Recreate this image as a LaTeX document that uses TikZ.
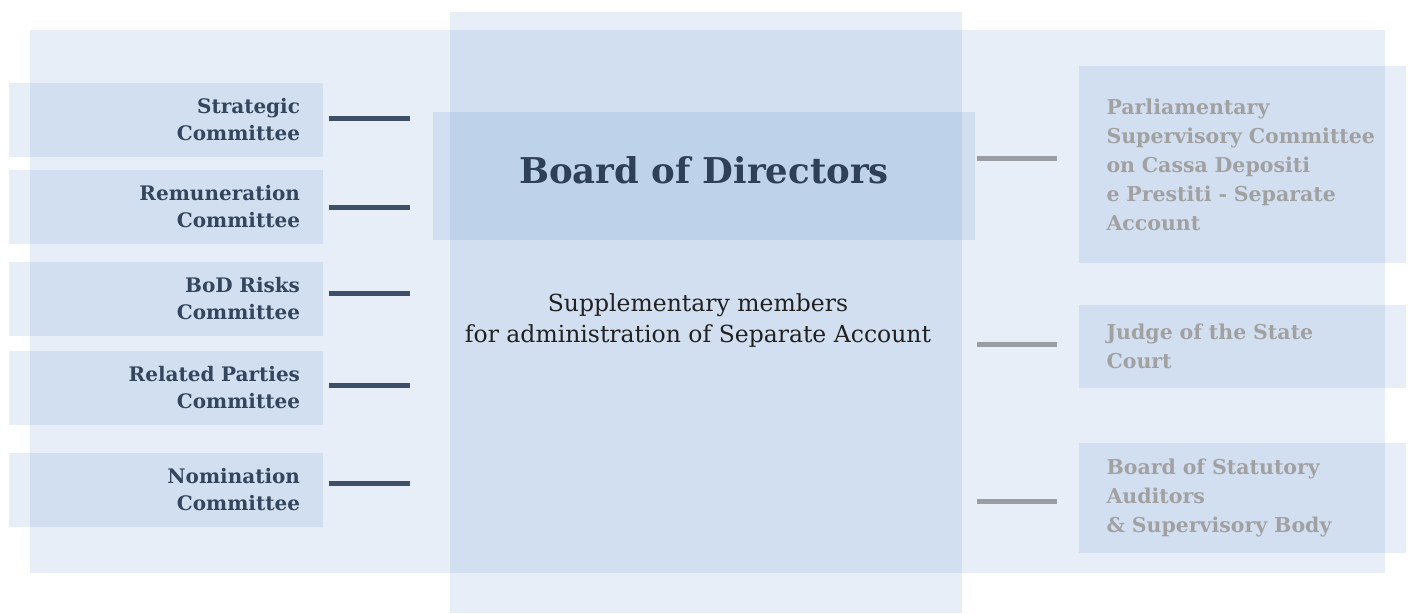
\documentclass[tikz,border=0pt]{standalone}
\usepackage{fontspec}
\setmainfont{DejaVu Serif}
\definecolor{tint}{RGB}{20,90,180}
\definecolor{slate}{RGB}{52,70,94}
\definecolor{inkrule}{RGB}{62,80,103}
\definecolor{mute}{RGB}{162,161,161}
\definecolor{muterule}{RGB}{154,157,164}
\definecolor{boardink}{RGB}{47,63,88}
\tikzset{
  panel/.style={rectangle, fill=tint, fill opacity=0.1, text opacity=1, inner sep=0pt},
  cmte/.style={panel, minimum width=314pt, minimum height=74pt, text width=268pt,
    align=right, text=slate, font=\bfseries\fontsize{20}{27}\selectfont},
  ctrl/.style={panel, minimum width=327pt, text width=272pt,
    align=left, text=mute, font=\bfseries\fontsize{20.5}{29}\selectfont},
  darkrule/.style={draw=inkrule, line width=5pt, shorten <=6pt, shorten >=23pt},
  palerule/.style={draw=muterule, line width=5pt, shorten <=2pt, shorten >=22pt}
}
\begin{document}
\begin{tikzpicture}[x=1pt, y=-1pt]
  \useasboundingbox (0,0) rectangle (1412,613);
  \node[panel, minimum width=1355pt, minimum height=543pt] (frame) at (707.5,301.5) {};
  \node[panel, minimum width=512pt, minimum height=601pt] (column) at (706,312.5) {};
  \node[panel, minimum width=542pt, minimum height=128pt, text depth=11pt, text=boardink,
    font=\bfseries\fontsize{35.5}{40}\selectfont] (board) at (704,176) {Board of Directors};
  \node[align=center, text=black!87, font=\fontsize{23.5}{31}\selectfont] (members)
    at (698,321) {Supplementary members\\for administration of Separate Account};

  \node[cmte] (strategic) at (166,120) {Strategic\\Committee};
  \node[cmte] (remuneration) at (166,207) {Remuneration\\Committee};
  \node[cmte] (risks) at (166,299) {BoD Risks\\Committee};
  \node[cmte] (related) at (166,388) {Related Parties\\Committee};
  \node[cmte] (nomination) at (166,490) {Nomination\\Committee};

  \node[ctrl, minimum height=197pt] (parliament) at (1242.5,164.5)
    {Parliamentary\\Supervisory Committee\\on Cassa Depositi\\e Prestiti - Separate\\Account};
  \node[ctrl, minimum height=83pt] (judge) at (1242.5,346.5) {Judge of the State\\Court};
  \node[ctrl, minimum height=110pt] (auditors) at (1242.5,498)
    {Board of Statutory\\Auditors\\\& Supervisory Body};

  \begin{scope}[-]
    \draw[darkrule] ([yshift=1.5pt]strategic.east) to ([yshift=1.5pt]strategic.east -| board.west);
    \draw[darkrule] (remuneration.east) to (remuneration.east -| board.west);
    \draw[darkrule] ([yshift=6pt]risks.east) to ([yshift=6pt]risks.east -| board.west);
    \draw[darkrule] ([yshift=3pt]related.east) to ([yshift=3pt]related.east -| board.west);
    \draw[darkrule] ([yshift=7pt]nomination.east) to ([yshift=7pt]nomination.east -| board.west);
    \draw[palerule] ([yshift=6.5pt]parliament.west -| board.east) to ([yshift=6.5pt]parliament.west);
    \draw[palerule] ([yshift=2.5pt]judge.west -| board.east) to ([yshift=2.5pt]judge.west);
    \draw[palerule] ([yshift=-3pt]auditors.west -| board.east) to ([yshift=-3pt]auditors.west);
  \end{scope}
\end{tikzpicture}
\end{document}
